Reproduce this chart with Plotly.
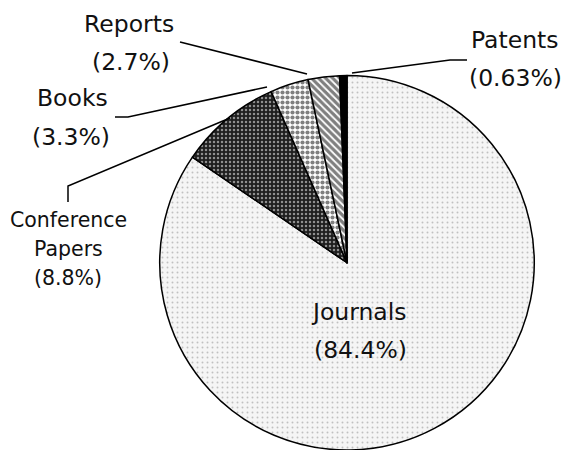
import plotly.graph_objects as go

categories = ["Journals", "Conference<br>Papers", "Books", "Reports", "Patents"]
label_lines = [["Journals"], ["Conference", "Papers"], ["Books"], ["Reports"], ["Patents"]]
values = [84.4, 8.8, 3.3, 2.7, 0.63]
pct_labels = ["(84.4%)", "(8.8%)", "(3.3%)", "(2.7%)", "(0.63%)"]

W, H = 565, 450

def px(x):
    return x / W

def py(y):
    return min(1.0, max(0.0, 1 - y / H))

CX, CY, R = 347, 263, 187.5

fig = go.Figure(go.Pie(
    labels=categories,
    values=values,
    sort=False,
    direction="clockwise",
    rotation=0,
    textinfo="none",
    hoverinfo="label+percent",
    domain=dict(x=[px(CX - R), px(CX + R)], y=[py(CY + R), py(CY - R)]),
    marker=dict(
        colors=["#f5f5f5", "#1e1e1e", "#ffffff", "#ffffff", "#000000"],
        line=dict(color="#000000", width=1.5),
        pattern=dict(
            shape=[".", ".", ".", "\\", ""],
            fgcolor=["#8c8c8c", "#ffffff", "#000000", "#000000", "#000000"],
            size=[5, 4, 5, 5, 4],
            solidity=[0.12, 0.3, 0.55, 0.65, 0.3],
            fillmode="overlay",
        ),
    ),
    showlegend=False,
))

font_main = dict(family="DejaVu Sans", size=23.5, color="#111111")
font_conf = dict(family="DejaVu Sans", size=20.5, color="#111111")

# label placements (pixel centres) for each line of each label
placements = {
    0: ([(359, 312)], (360, 350), font_main),
    1: ([(68, 220), (68, 249)], (68, 278), font_conf),
    2: ([(72, 98)], (71, 137), font_main),
    3: ([(129, 24)], (131, 62), font_main),
    4: ([(515, 40)], (515, 78), font_main),
}

annotations = []
for i, (name_pos, pct_pos, fnt) in placements.items():
    for line, (x, y) in zip(label_lines[i], name_pos):
        annotations.append(dict(x=px(x), y=py(y), xref="paper", yref="paper",
                                text=line, showarrow=False, font=fnt,
                                xanchor="center", yanchor="middle"))
    annotations.append(dict(x=px(pct_pos[0]), y=py(pct_pos[1]), xref="paper", yref="paper",
                            text=pct_labels[i], showarrow=False, font=fnt,
                            xanchor="center", yanchor="middle"))

leaders = [
    [(180, 42), (307, 74)],
    [(115, 117), (128, 117), (267, 87)],
    [(68, 202), (68, 186), (230, 118)],
    [(352, 73), (450, 60), (467, 60)],
]
shapes = []
for pts in leaders:
    path = "M " + " L ".join(f"{px(x):.5f},{py(y):.5f}" for x, y in pts)
    shapes.append(dict(type="path", path=path, xref="paper", yref="paper",
                       line=dict(color="#000000", width=1.5)))

fig.update_layout(
    width=W, height=H,
    margin=dict(l=0, r=0, t=0, b=0),
    paper_bgcolor="white",
    plot_bgcolor="white",
    annotations=annotations,
    shapes=shapes,
)

fig.write_html(
    "out.html",
    config={"displayModeBar": False},
    post_script="document.body.style.margin='0';document.body.style.overflow='hidden';",
)
